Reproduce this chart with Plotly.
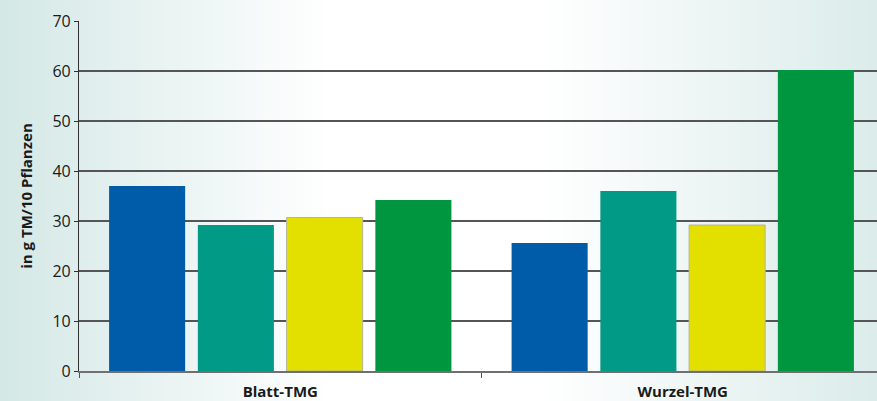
import plotly.graph_objects as go

categories = ["Blatt-TMG", "Wurzel-TMG"]
series_names = ["S1", "S2", "S3", "S4"]
s1 = [37.0, 25.6]
s2 = [29.2, 36.0]
s3 = [30.7, 29.2]
s4 = [34.2, 60.2]
y_ticks = [0, 10, 20, 30, 40, 50, 60, 70]

colors = ["#005ca9", "#009a87", "#e3e000", "#00963f"]
outlines = ["#005ca9", "#009a87", "#b4b49a", "#00963f"]

W, H = 877, 401
ML, MR, MT, MB = 79, 0, 21, 30
pw = W - ML - MR

fig = go.Figure()
for name, vals, c, oc in zip(series_names, [s1, s2, s3, s4], colors, outlines):
    fig.add_trace(go.Bar(x=categories, y=vals, name=name, marker=dict(color=c, line=dict(color=oc, width=1 if c == "#e3e000" else 0))))

# background gradient stripes
def col_at(px):
    left = (212, 232, 230)
    right = (219, 236, 234)
    w = (255, 255, 255)
    if px <= 330:
        t = px / 330
        c = tuple(round(left[i] + (w[i] - left[i]) * t) for i in range(3))
    elif px <= 540:
        c = w
    else:
        t = (px - 540) / (W - 540)
        c = tuple(round(w[i] + (right[i] - w[i]) * t) for i in range(3))
    return "rgb(%d,%d,%d)" % c

shapes = []
step = 4
for x in range(0, W, step):
    x0 = (x - ML) / pw
    x1 = (x + step + 0.5 - ML) / pw
    shapes.append(dict(type="rect", xref="paper", yref="paper", x0=x0, x1=x1,
                       y0=-MB / (H - MT - MB), y1=1 + MT / (H - MT - MB),
                       fillcolor=col_at(x + step / 2), line=dict(width=0), layer="below"))

fig.update_layout(
    width=W, height=H,
    margin=dict(l=ML, r=MR, t=MT, b=MB, pad=0),
    barmode="group", bargap=0.118, bargroupgap=0.143,
    paper_bgcolor="white", plot_bgcolor="rgba(0,0,0,0)",
    showlegend=False,
    shapes=shapes,
    font=dict(family="Open Sans", color="#1a1a1a"),
)
fig.update_xaxes(
    range=[-0.5, -0.5 + pw / 402.5],
    showline=True, linecolor="#707070", linewidth=1.5,
    tickson="boundaries", ticks="outside", ticklen=5, tickcolor="#505050", tickwidth=1,
    tickfont=dict(size=15, family="Open Sans", weight="bold", color="#1a1a1a"),
    ticklabelstandoff=6,
    showgrid=False,
)
fig.update_yaxes(
    range=[0, 70], tickvals=y_ticks,
    showline=True, linecolor="#303030", linewidth=1.2,
    ticks="outside", ticklen=4, tickcolor="#303030",
    tickfont=dict(size=16, family="Open Sans", color="#1a1a1a"),
    showgrid=True, gridcolor="#555555", gridwidth=1.5,
    zeroline=False,
    title=dict(text="in g TM/10 Pflanzen", font=dict(size=15, family="Open Sans", weight="bold", color="#1a1a1a"), standoff=16),
)

fig.write_html("out.html")
